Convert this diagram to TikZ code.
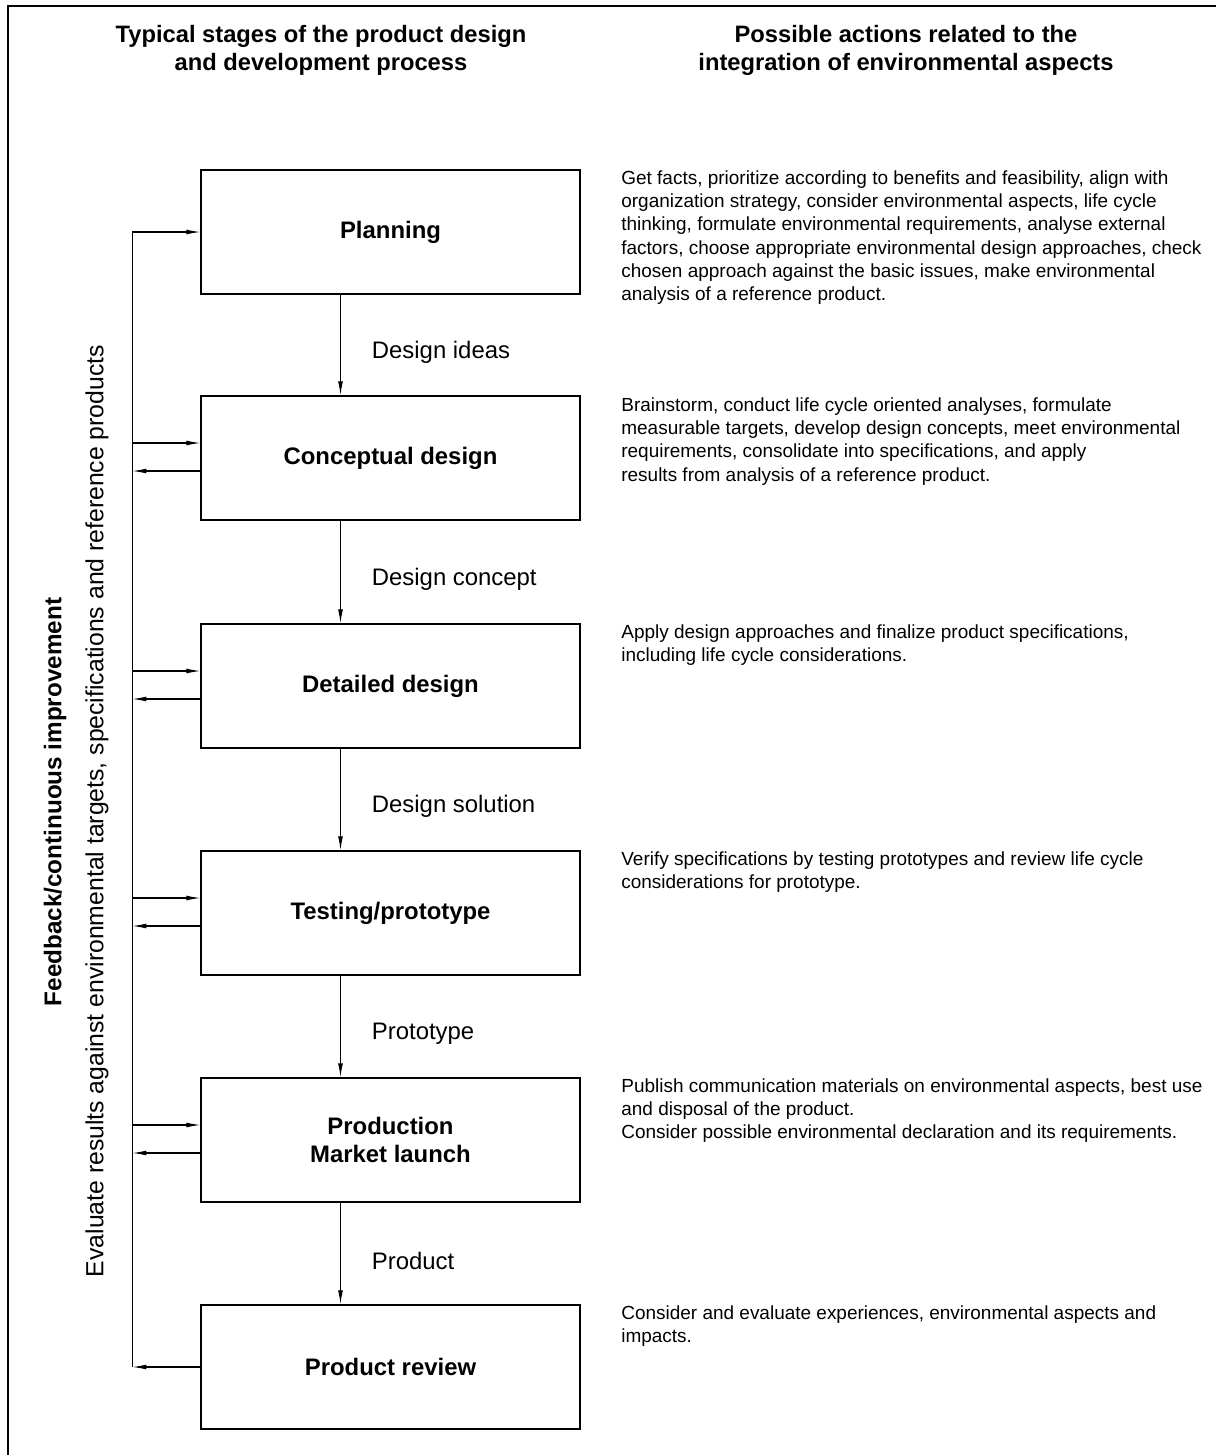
\documentclass[tikz,border=0pt]{standalone}
\usepackage{fontspec}
\setmainfont{Liberation Sans}
\usetikzlibrary{arrows.meta,calc}

\tikzset{
  stage/.style={draw, line width=0.8pt, minimum width=7.58cm, minimum height=2.48cm,
    align=center, inner sep=0pt, font=\bfseries\fontsize{13.6}{15.9}\selectfont},
  flow/.style={-{Latex[length=8pt,width=2.8pt]}, line width=0.6pt},
  flowlabel/.style={anchor=west, inner sep=0pt, xshift=17.6pt, yshift=-4pt,
    font=\fontsize{13.6}{15}\selectfont},
  action/.style={anchor=north west, align=left, inner sep=0pt,
    font=\fontsize{10.8}{13.3}\selectfont},
  heading/.style={align=center, font=\bfseries\fontsize{13.5}{15.9}\selectfont},
}

\begin{document}
\begin{tikzpicture}[x=0.02cm, y=-0.02cm]
\useasboundingbox (0,0) rectangle (1216,1455);
% frame
\draw[line width=1.3pt] (8,1455) -- (8,6) -- (1216,6);

% column headings
\node[heading] (headL) at (321,50) {Typical stages of the product design\\and development process};
\node[heading] (headR) at (906,50) {Possible actions related to the\\integration of environmental aspects};

% stages
\node[stage] (plan) at (390.5,232) {Planning};
\node[stage] (conc) at (390.5,458) {Conceptual design};
\node[stage] (det)  at (390.5,686) {Detailed design};
\node[stage] (test) at (390.5,913) {Testing/prototype};
\node[stage] (prod) at (390.5,1140) {Production\\Market launch};
\node[stage] (rev)  at (390.5,1367) {Product review};

% flow between stages
\foreach \a/\b/\t in {plan/conc/Design ideas, conc/det/Design concept,
    det/test/Design solution, test/prod/Prototype, prod/rev/Product}
  \draw[flow] ($(\a.south)+(-50,0)$) -- node[flowlabel]{\t} ($(\b.north)+(-50,0)$);

% feedback loop
\path (plan.west) ++(-68,0) coordinate (railtop);
\path (rev.west) ++(-68,0) coordinate (railbot);
\draw[line width=0.6pt] (railtop) -- (railbot);
\draw[flow] (railtop) -- (plan.west);
\draw[flow] (rev.west) -- (railbot);
\foreach \n in {conc,det,test,prod}{
  \path (\n.west) ++(-68,-15) coordinate (\n-in) ++(0,28) coordinate (\n-out);
  \draw[flow] (\n-in) -- ($(\n.west)+(0,-15)$);
  \draw[flow] ($(\n.west)+(0,13)$) -- (\n-out);
}
\node[rotate=90, font=\bfseries\fontsize{13.8}{15}\selectfont] (fbtitle) at (55,802)
  {Feedback/continuous improvement};
\node[rotate=90, font=\fontsize{14.1}{15}\selectfont] (fbtext) at (97,811)
  {Evaluate results against environmental targets, specifications and reference products};

% possible actions
\node[action] (actplan) at (621,170) {Get facts, prioritize according to benefits and feasibility, align with\\
  organization strategy, consider environmental aspects, life cycle\\
  thinking, formulate environmental requirements, analyse external\\
  factors, choose appropriate environmental design approaches, check\\
  chosen approach against the basic issues, make environmental\\
  analysis of a reference product.};
\node[action] (actconc) at (621,397) {Brainstorm, conduct life cycle oriented analyses, formulate\\
  measurable targets, develop design concepts, meet environmental\\
  requirements, consolidate into specifications, and apply\\
  results from analysis of a reference product.};
\node[action] (actdet) at (621,624) {Apply design approaches and finalize product specifications,\\
  including life cycle considerations.};
\node[action] (acttest) at (621,851) {Verify specifications by testing prototypes and review life cycle\\
  considerations for prototype.};
\node[action] (actprod) at (621,1078) {Publish communication materials on environmental aspects, best use\\
  and disposal of the product.\\
  Consider possible environmental declaration and its requirements.};
\node[action] (actrev) at (621,1305) {Consider and evaluate experiences, environmental aspects and\\
  impacts.};
\end{tikzpicture}
\end{document}
